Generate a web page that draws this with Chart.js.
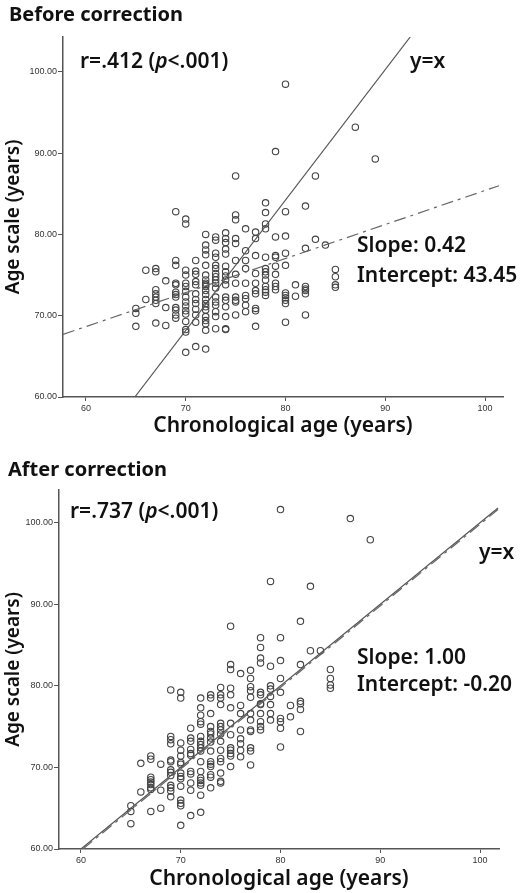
<!DOCTYPE html>
<html>
<head>
<meta charset="utf-8">
<script src="https://cdn.jsdelivr.net/npm/chart.js@4.4.1/dist/chart.umd.min.js"></script>
<style>
  html, body { margin: 0; padding: 0; background: #fff; }
  #wrap { position: relative; width: 522px; height: 893px; }
  .panel { position: absolute; left: 0; width: 522px; }
</style>
</head>
<body>
<div id="wrap">
  <div class="panel" style="top:0;height:440px"><canvas id="before"></canvas></div>
  <div class="panel" style="top:440px;height:453px"><canvas id="after"></canvas></div>
</div>
<script>
// chronological age columns (same for both panels)
const ages = [65, 66, 67, 68, 69, 70, 71, 72, 73, 74, 75, 76, 77, 78, 79, 80, 81, 82, 83, 84, 85, 87, 89];

// age scale values per age column, before correction
const beforeVals = [
  [70.9, 70.3, 68.7],
  [75.6, 72.0],
  [75.8, 75.4, 73.2, 72.7, 72.3, 71.9, 71.5, 69.1],
  [74.3, 71.0, 68.8],
  [82.8, 76.8, 76.2, 74.0, 73.8, 72.9, 72.6, 72.3, 71.0, 70.7, 70.1, 69.7],
  [81.9, 81.3, 75.6, 75.0, 74.0, 73.6, 73.0, 72.3, 71.7, 71.2, 70.6, 70.2, 69.3, 68.3, 68.0, 65.5],
  [76.8, 75.5, 75.1, 74.2, 73.8, 72.7, 72.0, 71.5, 70.8, 70.1, 69.2, 66.2],
  [80.0, 78.7, 78.1, 77.5, 76.2, 75.0, 74.4, 74.0, 73.8, 73.6, 73.1, 72.6, 72.0, 71.5, 71.1, 70.7, 69.9, 69.4, 69.0, 68.2, 65.9],
  [79.7, 79.3, 77.7, 77.2, 76.2, 75.8, 75.2, 74.8, 74.4, 74.0, 73.4, 72.3, 71.7, 71.3, 70.5, 69.9, 68.4],
  [80.2, 79.5, 79.0, 78.2, 77.6, 76.1, 75.4, 74.9, 74.4, 73.8, 72.3, 71.9, 71.1, 69.9, 68.4, 68.3],
  [87.2, 82.4, 81.8, 79.5, 78.9, 76.8, 75.1, 74.0, 72.3, 71.9, 71.7, 70.1],
  [80.7, 78.0, 76.8, 75.8, 74.0, 72.5, 72.1, 71.3, 70.5],
  [80.3, 79.5, 77.4, 75.2, 74.0, 73.1, 72.7, 70.9, 70.6, 68.7],
  [83.9, 82.7, 81.3, 80.7, 77.2, 75.8, 75.4, 75.0, 74.4, 73.6, 73.2, 72.9, 72.5],
  [90.2, 79.7, 77.4, 77.2, 76.1, 75.1, 74.0, 73.6, 73.2],
  [98.5, 82.8, 79.8, 77.7, 76.2, 72.8, 72.5, 72.2, 71.9, 71.5, 69.2],
  [73.8, 72.4],
  [83.5, 78.3, 73.6, 73.3, 73.1, 72.7, 70.1],
  [87.2, 79.4],
  [78.7],
  [75.7, 74.8, 73.8, 73.5],
  [93.2],
  [89.3]
];

// age scale values per age column, after correction
const afterVals = [
  [65.3, 64.6, 63.1],
  [70.5, 67.0],
  [71.4, 71.0, 68.8, 68.5, 68.2, 67.9, 67.5, 67.3, 64.6],
  [70.4, 67.2, 65.0],
  [79.5, 73.8, 73.4, 72.9, 70.9, 70.7, 69.7, 69.4, 69.0, 67.8, 67.5, 67.1, 66.4],
  [79.2, 78.5, 73.0, 72.1, 71.4, 70.6, 70.4, 69.3, 68.9, 68.6, 67.7, 66.0, 65.6, 65.3, 62.9],
  [74.8, 73.6, 73.2, 72.2, 71.7, 71.5, 69.5, 69.2, 68.1, 67.2, 64.1],
  [78.5, 77.3, 76.4, 75.6, 75.3, 73.8, 73.2, 72.8, 72.4, 72.0, 70.7, 69.5, 68.7, 68.4, 68.1, 67.8, 66.6, 64.5],
  [78.9, 78.5, 76.6, 75.0, 74.4, 74.1, 73.6, 73.1, 72.0, 70.7, 70.4, 70.1, 69.1, 68.8, 67.5],
  [79.8, 78.9, 78.5, 77.7, 75.4, 75.0, 74.6, 74.1, 73.2, 72.1, 71.1, 70.7, 69.3, 68.3, 68.1],
  [87.3, 82.6, 82.0, 79.7, 78.9, 77.3, 75.4, 74.0, 72.4, 72.1, 71.7, 71.4, 70.1],
  [81.5, 77.6, 76.6, 74.6, 73.5, 72.9, 72.1, 71.3],
  [81.9, 80.9, 79.9, 79.4, 78.6, 76.6, 75.8, 74.6, 74.4, 72.4, 72.0, 70.3],
  [85.9, 84.7, 83.4, 82.8, 79.2, 78.9, 77.8, 77.7, 76.6, 75.6, 75.0, 74.6],
  [92.8, 82.4, 80.0, 79.6, 78.7, 77.7, 76.6, 75.8],
  [101.6, 85.9, 83.1, 80.9, 79.2, 76.0, 75.6, 74.8, 72.5],
  [77.6, 76.2],
  [87.9, 82.6, 78.1, 77.8, 77.1, 74.4],
  [92.2, 84.3],
  [84.3],
  [82.0, 80.9, 80.1, 79.7],
  [100.5],
  [97.9]
];

// reference line ("y=x") and fitted line end points, as drawn
const beforeRefLine = [[64.9, 60], [92.5, 104.3]];
const beforeFitLine = [[57.7, 67.7], [101.4, 86.0]];
const afterRefLine = [[60.0, 60.0], [101.8, 101.8]];
const afterFitLine = [[60.2, 60.0], [101.8, 101.6]];

const xTicks = [60, 70, 80, 90, 100];
const yTicks = [60, 70, 80, 90, 100];

const toPoints = (vals) => ages.flatMap((a, i) => vals[i].map(v => ({ x: a, y: v })));
const toLine = (pairs) => pairs.map(p => ({ x: p[0], y: p[1] }));

const TEXT = "'Noto Sans', 'Open Sans', sans-serif";
const AXIS = "#555";

// draws panel title and the statistics text
const panelText = {
  id: "panelText",
  afterDraw(chart, args, o) {
    const ctx = chart.ctx;
    ctx.save();
    ctx.fillStyle = "#111";
    ctx.textBaseline = "middle";
    ctx.textAlign = "left";
    ctx.font = "bold 20px " + TEXT;
    ctx.fillText(o.title, o.titlePos[0], o.titlePos[1]);

    const reg = "600 21px " + TEXT;
    let x = o.rPos[0];
    const y = o.rPos[1];
    const parts = [["r=" + o.r + " (", false], ["p", true], ["<.001)", false]];
    parts.forEach(([t, it]) => {
      ctx.font = (it ? "italic " : "") + reg;
      ctx.fillText(t, x, y);
      x += ctx.measureText(t).width;
    });
    ctx.font = reg;
    ctx.fillText("y=x", o.refPos[0], o.refPos[1]);
    ctx.fillText("Slope: " + o.slope, o.slopePos[0], o.slopePos[1]);
    ctx.fillText("Intercept: " + o.intercept, o.slopePos[0], o.slopePos[1] + o.gap);
    ctx.restore();
  }
};

function makeChart(id, vals, refLine, fitLine, s) {
  const ctx = document.getElementById(id).getContext("2d");
  return new Chart(ctx, {
    type: "scatter",
    data: {
      datasets: [
        {
          label: "cases",
          data: toPoints(vals),
          pointStyle: "circle",
          pointRadius: 3.2,
          pointBorderWidth: 1.1,
          pointBorderColor: "#444",
          pointBackgroundColor: "rgba(0,0,0,0)",
          order: 2
        },
        {
          type: "line",
          label: "y=x",
          data: toLine(refLine),
          borderColor: "#555",
          borderWidth: 1.2,
          pointRadius: 0,
          fill: false,
          order: 1
        },
        {
          type: "line",
          label: "fit",
          data: toLine(fitLine),
          borderColor: "#666",
          borderWidth: 1.2,
          borderDash: [12, 5, 3, 5],
          pointRadius: 0,
          fill: false,
          order: 1
        }
      ]
    },
    options: {
      responsive: true,
      maintainAspectRatio: false,
      animation: false,
      layout: { padding: s.padding },
      plugins: {
        legend: { display: false },
        tooltip: { enabled: false },
        panelText: s.text
      },
      scales: {
        x: {
          type: "linear",
          min: s.xMin,
          max: s.xMax,
          afterBuildTicks: (sc) => { sc.ticks = xTicks.map(v => ({ value: v })); },
          afterFit: (sc) => { sc.height = s.xHeight; },
          ticks: { color: "#333", font: { family: "'Liberation Sans', Arial", size: 9 }, padding: 2 },
          grid: { drawOnChartArea: false, drawTicks: true, tickLength: 4, color: AXIS },
          border: { display: true, color: AXIS, width: 1.5 },
          title: { display: true, text: "Chronological age (years)", color: "#111",
                   font: { family: TEXT, size: 21, weight: "600" }, padding: { top: 0, bottom: 1 } }
        },
        y: {
          type: "linear",
          min: 60,
          max: s.yMax,
          afterBuildTicks: (sc) => { sc.ticks = yTicks.map(v => ({ value: v })); },
          afterFit: (sc) => { sc.width = s.yWidth; },
          ticks: { color: "#333", font: { family: "'Liberation Sans', Arial", size: 9 }, padding: 1,
                   callback: (v) => Number(v).toFixed(2) },
          grid: { drawOnChartArea: false, drawTicks: true, tickLength: 5, color: AXIS },
          border: { display: true, color: AXIS, width: 1.5 },
          title: { display: true, text: "Age scale (years)", color: "#111",
                   font: { family: TEXT, size: 19, weight: "600" }, padding: { top: 2, bottom: 0 } }
        }
      }
    },
    plugins: [panelText]
  });
}

makeChart("before", beforeVals, beforeRefLine, beforeFitLine, {
  padding: { top: 37, right: 19, bottom: 0, left: 0 },
  xMin: 57.7, xMax: 101.8, yMax: 104.3, xHeight: 43, yWidth: 63,
  text: {
    title: "Before correction", titlePos: [9, 15],
    r: ".412", rPos: [80, 62], refPos: [410, 62],
    slope: "0.42", intercept: "43.45", slopePos: [357, 246], gap: 30
  }
});

makeChart("after", afterVals, afterRefLine, afterFitLine, {
  padding: { top: 50, right: 23, bottom: 0, left: 0 },
  xMin: 57.8, xMax: 101.9, yMax: 104, xHeight: 44, yWidth: 59,
  text: {
    title: "After correction", titlePos: [8, 30],
    r: ".737", rPos: [70, 72], refPos: [479, 113],
    slope: "1.00", intercept: "-0.20", slopePos: [357, 218], gap: 27
  }
});
</script>
</body>
</html>
